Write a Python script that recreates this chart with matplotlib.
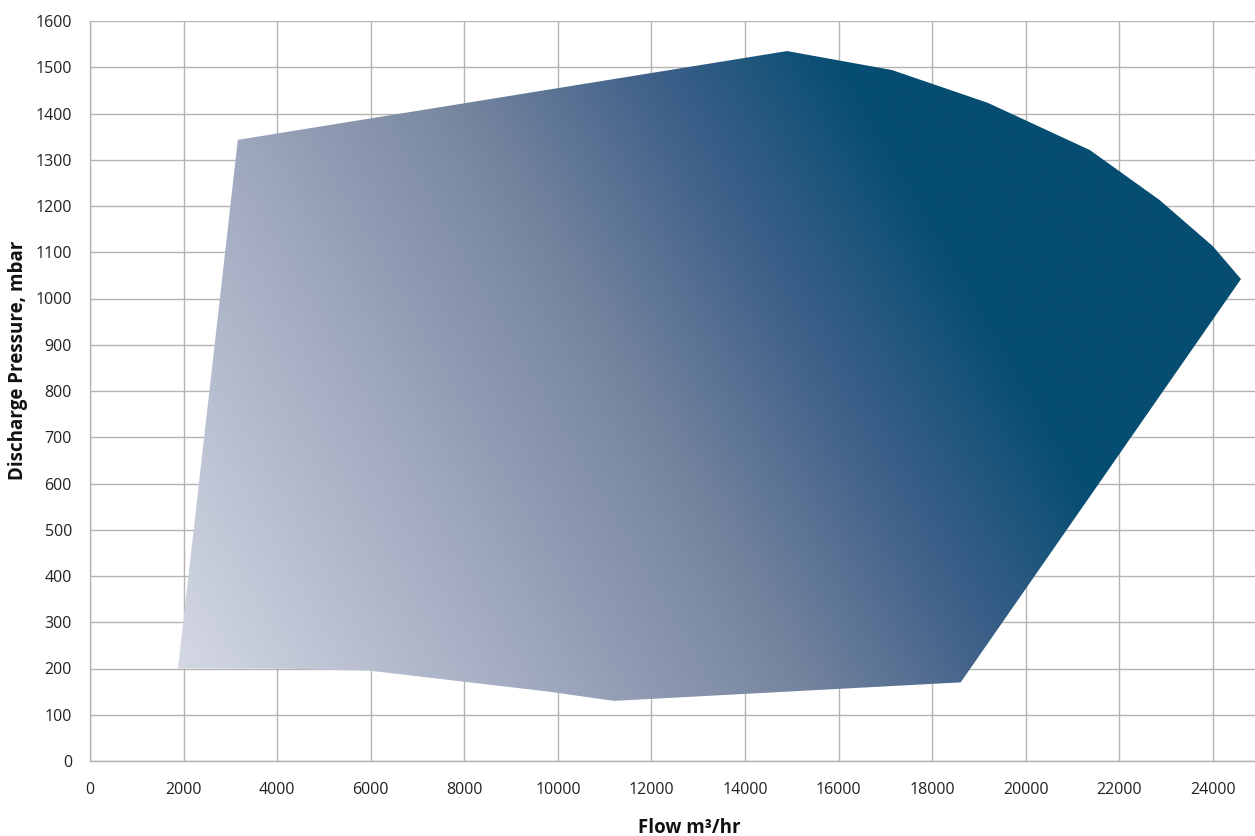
import numpy as np
import matplotlib.pyplot as plt
from matplotlib.patches import Polygon
from matplotlib.colors import LinearSegmentedColormap

plt.rcParams["font.family"] = ["Open Sans", "DejaVu Sans"]

# Operating envelope outline (flow m3/hr, discharge pressure mbar)
flow = [1880, 3160, 14900, 17140, 19190, 21370, 22860, 24000, 24600,
        18610, 11200, 9800, 6000, 4000]
pressure = [200, 1343, 1535, 1494, 1423, 1321, 1213, 1113, 1042,
            170, 130, 150, 195, 200]

x_ticks = list(range(0, 24001, 2000))
y_ticks = list(range(0, 1601, 100))

W, H, DPI = 1255, 836, 100
fig = plt.figure(figsize=(W / DPI, H / DPI), dpi=DPI)
ax = fig.add_axes([90 / W, 75 / H, 1 - 90 / W, 740 / H])
ax.set_xlim(0, 24900)
ax.set_ylim(0, 1600)

# gradient fill, computed in pixel space so the angle matches the picture
cmap = LinearSegmentedColormap.from_list(
    "env", [(0.0, "#d4d8e3"), (0.33, "#a2abc1"), (0.6, "#76859f"),
            (0.8, "#40618a"), (1.0, "#064d72")])
sx = 1165 / 24900
sy = 740 / 1600
gx = np.linspace(0, 24900, 600)
gy = np.linspace(0, 1600, 400)
GX, GY = np.meshgrid(gx, gy)
ang = np.deg2rad(30)
proj = (GX - flow[0]) * sx * np.cos(ang) + (GY - pressure[0]) * sy * np.sin(ang)
t = np.clip(proj / 880, 0, 1)
img = ax.imshow(t, cmap=cmap, origin="lower", extent=(0, 24900, 0, 1600),
                aspect="auto", zorder=2, interpolation="bilinear")
poly = Polygon(np.column_stack([flow, pressure]), closed=True,
               facecolor="none", edgecolor="none", zorder=2)
ax.add_patch(poly)
img.set_clip_path(poly)

ax.set_xticks(x_ticks)
ax.set_yticks(y_ticks)
ax.grid(True, color="#b4b4b4", linewidth=1)
ax.set_axisbelow(True)
ax.tick_params(length=0, labelsize=11.5, colors="#222222")
ax.tick_params(axis="y", pad=13)
ax.tick_params(axis="x", pad=15)
for side in ["top", "right"]:
    ax.spines[side].set_visible(False)
for side in ["left", "bottom"]:
    ax.spines[side].set_color("#b4b4b4")
    ax.spines[side].set_linewidth(1)

fig.text(689 / W, 1 - 828 / H, "Flow m³/hr", fontsize=13.5, fontweight="bold",
         ha="center", va="center", color="#111111")
fig.text(18 / W, 1 - 360 / H, "Discharge Pressure, mbar", fontsize=13.5,
         fontweight="bold", rotation=90, ha="center", va="center", color="#111111")

fig.savefig("out.png", dpi=DPI)
